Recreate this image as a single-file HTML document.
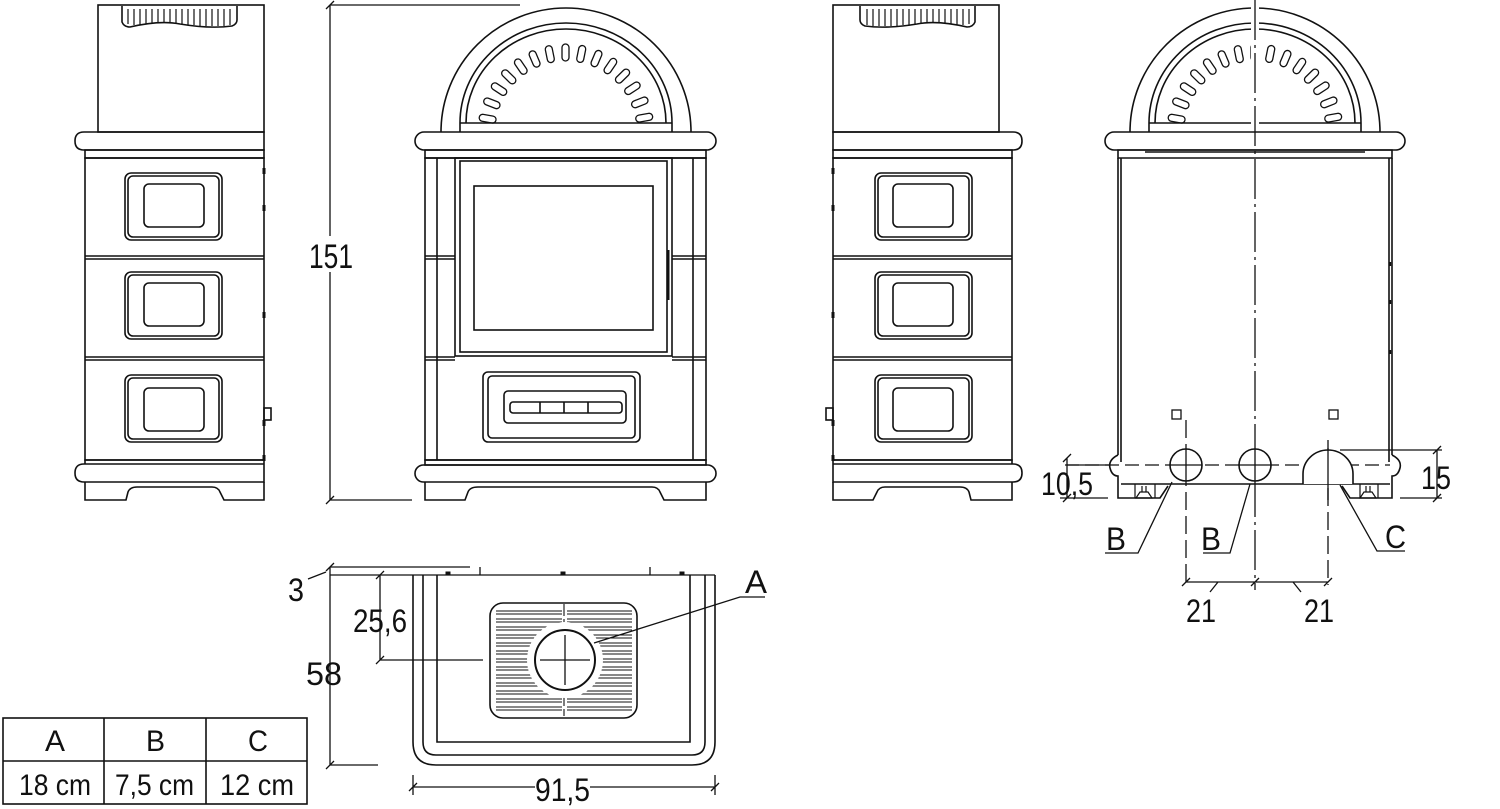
<!DOCTYPE html>
<html><head><meta charset="utf-8"><style>
html,body{margin:0;padding:0;background:#fff}
svg{display:block}
text{font-family:"Liberation Sans Narrow","Liberation Sans",sans-serif;fill:#111}
</style></head><body>
<svg width="1500" height="809" viewBox="0 0 1500 809" xmlns="http://www.w3.org/2000/svg" stroke="#111" fill="none" stroke-width="1.6">
<defs>
<g id="side">
  <rect x="98" y="5" width="166" height="127"/>
  <path d="M122 6 V22 Q124 27 130 27 Q160 20 180 24 Q210 29 232 26 Q237 24 237 20 V6"/>
  <g stroke-width="1.2">
    <path d="M128 9V24M134 9V25M140 9V25M146 9V24M152 9V23M158 9V23M164 9V23M170 9V23M176 9V24M182 9V24M188 9V25M194 9V25M200 9V26M206 9V26M212 9V26M218 9V26M224 9V26M230 9V25"/>
  </g>
  <path d="M264 132 H84 Q75 132 75 141 Q75 150 84 150 H264 Z"/>
  <rect x="85" y="150" width="179" height="8"/>
  <rect x="85" y="158" width="179" height="302"/>
  <path d="M85 256H264M85 259H264M85 357H264M85 360H264"/>
  <rect x="125" y="173" width="97" height="67" rx="6"/><rect x="128" y="176" width="91" height="61" rx="5"/><rect x="144" y="184" width="60" height="43" rx="5"/>
  <rect x="125" y="272" width="97" height="67" rx="6"/><rect x="128" y="275" width="91" height="61" rx="5"/><rect x="144" y="283" width="60" height="43" rx="5"/>
  <rect x="125" y="375" width="97" height="67" rx="6"/><rect x="128" y="378" width="91" height="61" rx="5"/><rect x="144" y="388" width="60" height="43" rx="5"/>
  <path d="M264 168v6M264 205v6M264 312v6M264 420v6M264 455v6" stroke-width="3"/>
  <rect x="264" y="408" width="7" height="12"/>
  <path d="M85 460H264V464H85ZM264 464 H84 Q75 464 75 473 Q75 482 84 482 H264 Z"/>
  <path d="M85 482 V500 H126 L128 492 Q130 487 137 487 H212 Q218 487 220 492 L224 500 H264 V482"/>
</g>
<g id="archfront">
  <path d="M441 132 A125 124 0 0 1 691 132"/>
  <path d="M460 132 V123 A106 100 0 0 1 672 123 V132"/>
  <path d="M466 123 A100 94 0 0 1 666 123 M460 123 H672"/>
</g>
<g id="slots" fill="none" stroke-width="1.3">
    <rect x="562" y="44" width="7" height="17" rx="3.5" transform="rotate(-80 566 132)"/>
    <rect x="562" y="44" width="7" height="17" rx="3.5" transform="rotate(-68.5 566 132)"/>
    <rect x="562" y="44" width="7" height="17" rx="3.5" transform="rotate(-57 566 132)"/>
    <rect x="562" y="44" width="7" height="17" rx="3.5" transform="rotate(-45.7 566 132)"/>
    <rect x="562" y="44" width="7" height="17" rx="3.5" transform="rotate(-34.3 566 132)"/>
    <rect x="562" y="44" width="7" height="17" rx="3.5" transform="rotate(-22.9 566 132)"/>
    <rect x="562" y="44" width="7" height="17" rx="3.5" transform="rotate(-11.4 566 132)"/>
    <rect x="562" y="44" width="7" height="17" rx="3.5"/>
    <rect x="562" y="44" width="7" height="17" rx="3.5" transform="rotate(11.4 566 132)"/>
    <rect x="562" y="44" width="7" height="17" rx="3.5" transform="rotate(22.9 566 132)"/>
    <rect x="562" y="44" width="7" height="17" rx="3.5" transform="rotate(34.3 566 132)"/>
    <rect x="562" y="44" width="7" height="17" rx="3.5" transform="rotate(45.7 566 132)"/>
    <rect x="562" y="44" width="7" height="17" rx="3.5" transform="rotate(57 566 132)"/>
    <rect x="562" y="44" width="7" height="17" rx="3.5" transform="rotate(68.5 566 132)"/>
    <rect x="562" y="44" width="7" height="17" rx="3.5" transform="rotate(80 566 132)"/>
</g>
</defs>

<use href="#side"/>
<use href="#side" transform="translate(1097 0) scale(-1 1)"/>

<!-- dimension 151 -->
<path d="M330 5V500M330 5H520M330 500H412M326 9l8-8M326 504l8-8" stroke-width="1.3"/>
<rect x="310" y="236" width="42" height="36" fill="#fff" stroke="none"/>
<text x="309" y="268" font-size="34" textLength="44" lengthAdjust="spacingAndGlyphs" stroke="none">151</text>

<!-- front view -->
<use href="#archfront"/>
<use href="#slots"/>
<g>
  <rect x="415" y="132" width="301" height="18" rx="9"/>
  <rect x="425" y="150" width="281" height="8"/>
  <rect x="425" y="158" width="281" height="302"/>
  <path d="M437 158V460M693 158V460M425 256H455M425 259H455M672 256H706M672 259H706M425 357H455M425 360H455M672 357H706M672 360H706"/>
  <rect x="455" y="158" width="217" height="198"/>
  <rect x="460" y="161" width="207" height="191"/>
  <rect x="474" y="186" width="179" height="144"/>
  <path d="M668 250V300" stroke-width="3"/>
  <rect x="483" y="372" width="157" height="70" rx="5"/>
  <rect x="488" y="376" width="147" height="62" rx="4"/>
  <rect x="504" y="391" width="122" height="32" rx="4"/>
  <rect x="510" y="402" width="112" height="11" rx="3"/>
  <path d="M540 402V413M564 402V413M588 402V413"/>
  <rect x="425" y="460" width="281" height="5"/>
  <rect x="415" y="465" width="301" height="17" rx="8.5"/>
  <path d="M425 482 V500 H465 L468 492 Q470 487 478 487 H652 Q658 487 660 492 L664 500 H706 V482"/>
</g>

<!-- back view -->
<g transform="translate(689 0)"><use href="#archfront"/><use href="#slots"/></g>
<g>
  <rect x="1105" y="132" width="300" height="18" rx="9"/>
  <path d="M1118 150H1392V158H1118ZM1145 152H1365"/>
  <path d="M1118 158V455M1121 158V462M1392 158V455M1389 158V462"/>
  <path d="M1390 262v4M1390 300v4M1390 350v4" stroke-width="2.5"/>
  <rect x="1172" y="410" width="9" height="9" stroke-width="1.3"/>
  <rect x="1329" y="410" width="9" height="9" stroke-width="1.3"/>
  <path d="M1118 455 Q1108 460 1110 468 Q1112 476 1118 476 V498 H1160 L1168 486 M1121 484H1390 M1392 455 Q1402 460 1400 468 Q1398 476 1392 476 V498 H1350 L1342 486"/>
  <path d="M1135 484V498M1155 484V498M1360 484V498M1378 484V498" stroke-width="1.2"/>
  <path d="M1136 498 L1140 492 H1148 L1152 498 Z M1142 492V486M1146 492V486M1360 498 L1364 492 H1372 L1376 498 Z M1366 492V486M1370 492V486" stroke-width="1.2"/>
  <rect x="1251" y="0" width="8" height="130" fill="#fff" stroke="none"/>
  <path d="M1255 0V590" stroke-width="1.3" stroke-dasharray="40 5 3 5"/>
  <path d="M1065 465H1390" stroke-width="1.3" stroke-dasharray="14 6"/>
  <path d="M1186 420V585M1328 440V585" stroke-width="1.3" stroke-dasharray="18 6"/>
  <circle cx="1186" cy="465" r="16" fill="#fff"/>
  <circle cx="1255" cy="465" r="16" fill="#fff"/>
  <path d="M1303 484 V474 A25 24 0 0 1 1353 474 V484" fill="#fff"/>
  <path d="M1170 465H1202M1186 449V481M1239 465H1271M1255 449V481M1328 448V500" stroke-width="1.3"/>
  <path d="M1172 482L1138 553H1105M1250 484L1230 553H1203M1340 485L1377 551H1405" stroke-width="1.3"/>
  <path d="M1186 582H1328M1182 586l8-8M1251 586l8-8M1324 586l8-8M1218 582l-8 10M1293 582l8 10" stroke-width="1.3"/>
  <path d="M1067 458V498M1063 462l8-8M1063 502l8-8M1067 465H1110M1060 498H1108" stroke-width="1.3"/>
  <path d="M1437 450V498M1433 454l8-8M1433 502l8-8M1340 450H1442M1400 498H1442" stroke-width="1.3"/>
</g>
<g stroke="none" font-size="32">
  <text x="1106" y="550" textLength="20" lengthAdjust="spacingAndGlyphs">B</text>
  <text x="1201" y="550" textLength="20" lengthAdjust="spacingAndGlyphs">B</text>
  <text x="1385" y="548" textLength="21" lengthAdjust="spacingAndGlyphs">C</text>
  <text x="1186" y="622" textLength="30" lengthAdjust="spacingAndGlyphs">21</text>
  <text x="1304" y="622" textLength="30" lengthAdjust="spacingAndGlyphs">21</text>
  <text x="1421" y="489" textLength="30" lengthAdjust="spacingAndGlyphs">15</text>
  <text x="1041" y="495" textLength="52" lengthAdjust="spacingAndGlyphs">10,5</text>
</g>

<!-- top view -->
<g>
  <path d="M330 567H470M330 575H715" stroke-width="1.3"/>
  <path d="M480 567V575M650 567V575" stroke-width="1.3"/>
  <path d="M446 575v-3h4v3M561 575v-3h4v3M680 575v-3h4v3" fill="#111" stroke-width="1"/>
  <path d="M413 575V742 Q413 765 436 765 H692 Q715 765 715 742 V575"/>
  <path d="M423 575V742 Q423 755 436 755 H692 Q705 755 705 742 V575"/>
  <path d="M437 575V742H690V575"/>
  <rect x="490" y="603" width="147" height="115" rx="13"/>
  <g stroke-width="1">
    <path d="M496 611h66M567 611h65M496 614h66M567 614h65M496 619h66M567 619h65M496 622h66M567 622h65M496 627h66M567 627h65M496 630h66M567 630h65M496 635h66M567 635h65M496 638h66M567 638h65M496 643h66M567 643h65M496 646h66M567 646h65M496 651h66M567 651h65M496 654h66M567 654h65M496 659h66M567 659h65M496 662h66M567 662h65M496 667h66M567 667h65M496 670h66M567 670h65M496 675h66M567 675h65M496 678h66M567 678h65M496 683h66M567 683h65M496 686h66M567 686h65M496 691h66M567 691h65M496 694h66M567 694h65M496 699h66M567 699h65M496 702h66M567 702h65M496 707h66M567 707h65M496 710h66M567 710h65"/>
  </g>
  <path d="M564 604V716" stroke-width="1.1" stroke-dasharray="12 3"/>
  <circle cx="565" cy="660" r="38" fill="#fff" stroke="none"/>
  <circle cx="565" cy="660" r="30" stroke-width="2"/>
  <path d="M540 660H590M565 635V685" stroke-width="1.3"/>
  <path d="M594 643L740 597H765" stroke-width="1.3"/>
  <path d="M380 575V660M380 660H483M376 579l8-8M376 664l8-8" stroke-width="1.3"/>
  <path d="M330 567V765M330 765H378M326 571l8-8M326 769l8-8M308 579L326 572" stroke-width="1.3"/>
  <path d="M413 775V795M715 775V795M413 787H535M590 787H715M409 791l8-8M711 791l8-8" stroke-width="1.3"/>
</g>
<g stroke="none" font-size="32">
  <text x="745" y="593" textLength="22" lengthAdjust="spacingAndGlyphs">A</text>
  <text x="288" y="601" textLength="16" lengthAdjust="spacingAndGlyphs">3</text>
  <text x="353" y="632" textLength="54" lengthAdjust="spacingAndGlyphs">25,6</text>
  <text x="306" y="685" textLength="36" lengthAdjust="spacingAndGlyphs">58</text>
  <text x="535" y="801" textLength="55" lengthAdjust="spacingAndGlyphs">91,5</text>
</g>

<!-- table -->
<g stroke-width="1.6">
  <rect x="3" y="718" width="304" height="86"/>
  <path d="M3 761H307M104 718V804M206 718V804"/>
</g>
<g stroke="none" font-size="30">
  <text x="45" y="751" textLength="20" lengthAdjust="spacingAndGlyphs">A</text>
  <text x="146" y="751" textLength="19" lengthAdjust="spacingAndGlyphs">B</text>
  <text x="248" y="751" textLength="20" lengthAdjust="spacingAndGlyphs">C</text>
  <text x="19" y="795" textLength="72" lengthAdjust="spacingAndGlyphs">18 cm</text>
  <text x="115" y="795" textLength="79" lengthAdjust="spacingAndGlyphs">7,5 cm</text>
  <text x="220" y="795" textLength="74" lengthAdjust="spacingAndGlyphs">12 cm</text>
</g>
</svg>
</body></html>
